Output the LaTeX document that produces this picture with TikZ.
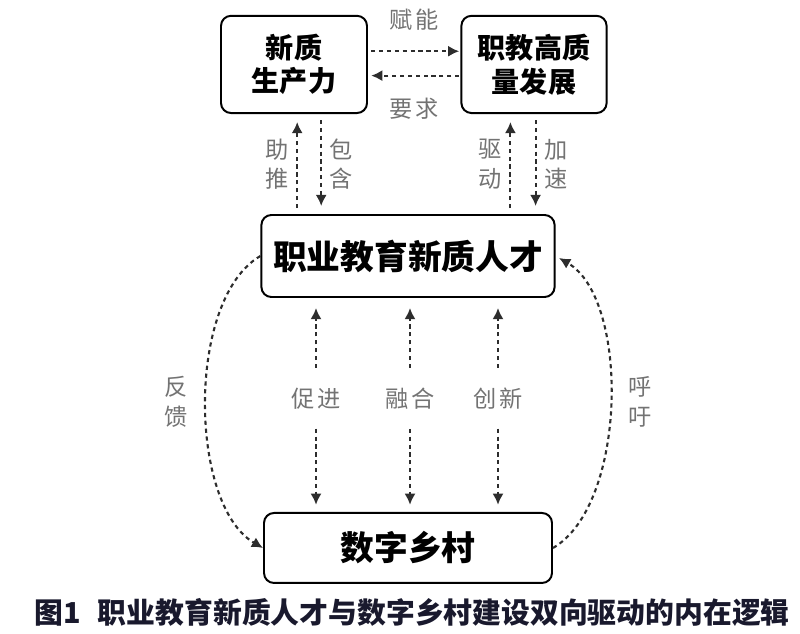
\documentclass[tikz,border=0pt]{standalone}
\usepackage{fontspec}
\usepackage{tikz}
\usetikzlibrary{arrows.meta, positioning}

\newfontfamily\cjk{Noto Sans CJK SC}
\newfontfamily\cjklbl[LetterSpace=15]{Noto Sans CJK SC}
\definecolor{lblgray}{RGB}{115,115,115}
\definecolor{linegray}{RGB}{45,45,45}
\definecolor{capblue}{RGB}{25,25,45}

\begin{document}
\begin{tikzpicture}[
    node distance=2.5cm and 3cm,
    block/.style={rectangle, draw, line width=1.4pt, rounded corners=2.5mm, align=center, font=\cjk\bfseries\fontsize{20}{24}\selectfont},
    tag/.style={text=lblgray, inner sep=1pt, align=center, font=\cjklbl\fontsize{16.5}{21}\selectfont},
    line/.style={draw, line width=1.5pt, color=linegray, dash pattern=on 3pt off 2.6pt, -{Latex[length=2.8mm, width=2.8mm]}}
]
    \useasboundingbox (0,0) rectangle (20,-15.85);

    % Nodes
    \node[block, minimum width=7.33cm, minimum height=2.05cm, font=\cjk\bfseries\fontsize{24}{28}\selectfont] (talent) at (10.2,-6.4) {职业教育新质人才};
    \node[block, above=2.5cm of talent, xshift=-2.85cm, minimum width=3.65cm, minimum height=2.43cm] (npf) {新质\\生产力};
    \node[block, above=2.5cm of talent, xshift=3.15cm, minimum width=3.63cm, minimum height=2.43cm] (hq) {职教高质\\量发展};
    \node[block, below=5.35cm of talent, minimum width=7.2cm, minimum height=1.75cm, font=\cjk\bfseries\fontsize{24}{28}\selectfont] (village) {数字乡村};
    \node[tag, below=2.2cm of talent, xshift=-2.3cm] (cj) {促进};
    \node[tag, below=2.2cm of talent, xshift=0.05cm] (rh) {融合};
    \node[tag, below=2.2cm of talent, xshift=2.25cm] (cx) {创新};
    \node[below=0.35cm of village, xshift=0.1cm, inner sep=0, text=capblue, font=\cjk\bfseries\fontsize{20.5}{24}\selectfont] (cap) {图1\hspace{0.6em}职业教育新质人才与数字乡村建设双向驱动的内在逻辑};

    % Connections
    \path[line, shorten <=0.8mm, shorten >=0.3mm] ([yshift=3.3mm]npf.east) -- node[tag, above=4.5mm] {赋能} ([yshift=3.3mm]hq.west);
    \path[line, shorten <=0.3mm, shorten >=0.8mm] ([yshift=-2.8mm]hq.west) -- node[tag, below=5mm] {要求} ([yshift=-2.8mm]npf.east);

    \path[line, shorten <=1.5mm, shorten >=2mm] ([xshift=0.8mm]npf.south |- talent.north) -- node[tag, left=1.5mm] {助\\推} ([xshift=0.8mm]npf.south);
    \path[line, shorten <=1.5mm, shorten >=2mm] ([xshift=6.8mm]npf.south) -- node[tag, right=1.5mm] {包\\含} ([xshift=6.8mm]npf.south |- talent.north);
    \path[line, shorten <=1.5mm, shorten >=2mm] ([xshift=-5.9mm]hq.south |- talent.north) -- node[tag, left=1.5mm] {驱\\动} ([xshift=-5.9mm]hq.south);
    \path[line, shorten <=1.5mm, shorten >=2mm] ([xshift=0.4mm]hq.south) -- node[tag, right=1.5mm] {加\\速} ([xshift=0.4mm]hq.south |- talent.north);

    \foreach \t in {cj, rh, cx} {
        \path[line, shorten <=4.5mm, shorten >=2.5mm] (\t) -- (\t |- talent.south);
        \path[line, shorten <=4.5mm, shorten >=1.8mm] (\t) -- (\t |- village.north);
    }

    \path[line] (talent.west) to[out=210, in=150, looseness=0.75] node[tag, left=4mm] {反\\馈} (village.west);
    \path[line, shorten >=1mm] (village.east) to[out=30, in=-30, looseness=0.75] node[tag, right=4mm] {呼\\吁} (talent.east);
\end{tikzpicture}
\end{document}
